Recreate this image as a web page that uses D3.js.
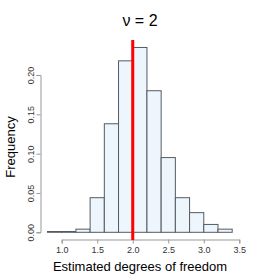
<!DOCTYPE html>
<html><head><meta charset="utf-8">
<script src="https://cdn.jsdelivr.net/npm/d3@7"></script>
<style>body{margin:0;background:#fff}svg{display:block;font-family:"Liberation Sans",Arial,sans-serif}</style>
</head><body>
<script>
const binEdges = [0.8,1.0,1.2,1.4,1.6,1.8,2.0,2.2,2.4,2.6,2.8,3.0,3.2,3.4];
const freqs = [0.001,0.001,0.004,0.044,0.138,0.218,0.235,0.180,0.095,0.044,0.025,0.010,0.004];
const xTicks = [1.0,1.5,2.0,2.5,3.0,3.5];
const yTicks = [0.00,0.05,0.10,0.15,0.20];
const trueNu = 2;

const W=280,H=280;
const svg=d3.select("body").append("svg").attr("width",W).attr("height",H);
const x=d3.scaleLinear().domain([1.0,3.5]).range([61.7,239.3]);
const y=d3.scaleLinear().domain([0,0.20]).range([232.3,75]);

const bins=freqs.map((f,i)=>({x0:binEdges[i],x1:binEdges[i+1],f}));
svg.append("g").selectAll("rect").data(bins).join("rect")
  .attr("x",d=>x(d.x0)).attr("width",d=>x(d.x1)-x(d.x0))
  .attr("y",d=>y(d.f)).attr("height",d=>y(0)-y(d.f))
  .attr("fill","#eef6fd").attr("stroke","#555a60").attr("stroke-width",1);

// x axis
const xa=svg.append("g").attr("transform","translate(0,239.5)")
  .call(d3.axisBottom(x).tickValues(xTicks).tickFormat(d3.format(".1f")).tickSize(4).tickPadding(3));
xa.select(".domain").attr("stroke","#999");
xa.selectAll(".tick line").attr("stroke","#999");
xa.selectAll("text").attr("font-size",9).attr("fill","#333").attr("font-family","Liberation Sans, Arial, sans-serif");

// y axis
const ya=svg.append("g").attr("transform","translate(40.5,0)")
  .call(d3.axisLeft(y).tickValues(yTicks).tickFormat(d3.format(".2f")).tickSize(4).tickPadding(3));
ya.select(".domain").attr("stroke","#999");
ya.selectAll(".tick line").attr("stroke","#999");
ya.selectAll("text").attr("font-size",9).attr("fill","#333").attr("font-family","Liberation Sans, Arial, sans-serif")
  .attr("text-anchor","middle").attr("dy","0.35em")
  .attr("transform","translate(-10,0) rotate(-90)")
  .attr("x",0).attr("y",0);

// red line
svg.append("line").attr("x1",x(trueNu)).attr("x2",x(trueNu)).attr("y1",40).attr("y2",240)
  .attr("stroke","#f00").attr("stroke-width",3);

svg.append("text").attr("x",140).attr("y",26).attr("text-anchor","middle")
  .attr("font-size",16).attr("fill","#000").text("ν = 2");
svg.append("text").attr("x",140).attr("y",271).attr("text-anchor","middle")
  .attr("font-size",13).attr("fill","#000").text("Estimated degrees of freedom");
svg.append("text").attr("transform","translate(15,147) rotate(-90)").attr("text-anchor","middle")
  .attr("font-size",13).attr("fill","#000").text("Frequency");
</script>
</body></html>
